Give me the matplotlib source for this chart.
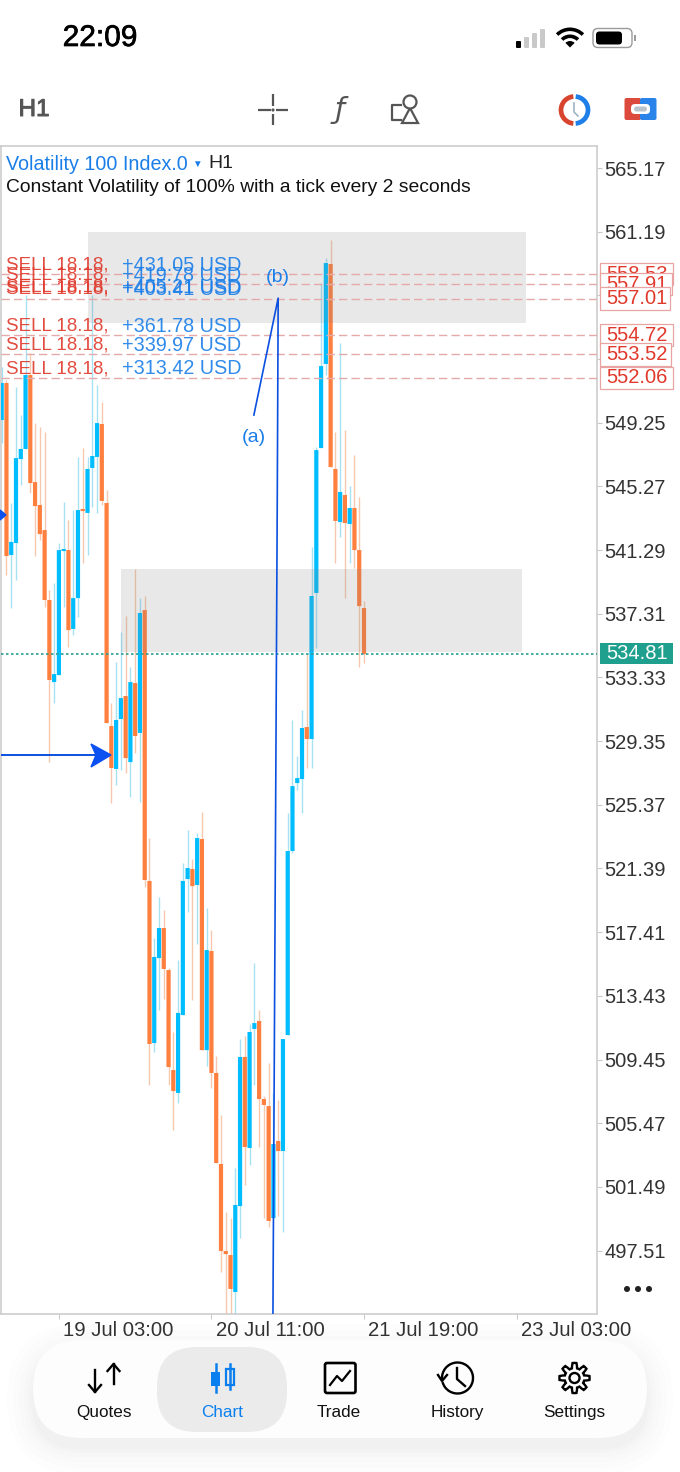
import numpy as np
import matplotlib
matplotlib.use('Agg')
import matplotlib.pyplot as plt
import matplotlib.patheffects as path_effects
from matplotlib.patches import Rectangle, FancyBboxPatch, Circle, Wedge, Arc, Polygon
from matplotlib.transforms import ScaledTranslation

plt.rcParams['font.family'] = ['Liberation Sans', 'DejaVu Sans']

# DATA
opens = [549.42, 551.73, 540.98, 541.73, 546.98, 547.61, 552.23, 545.54, 544.11, 542.54,
         538.17, 533.04, 533.48, 541.23, 541.29, 536.36, 538.29, 543.86, 543.61, 546.42,
         547.11, 549.17, 544.23, 530.29, 527.61, 530.73, 532.17, 528.04, 532.98, 529.86,
         537.54, 520.61, 510.48, 515.79, 517.67, 515.04, 508.79, 507.36, 512.23, 520.73,
         521.36, 520.36, 523.23, 510.04, 516.23, 508.61, 502.92, 497.48, 497.23, 494.92,
         500.29, 509.61, 503.92, 511.36, 511.86, 506.98, 506.54, 499.54, 504.36, 503.73,
         510.98, 522.48, 526.73, 526.98, 530.23, 529.48, 538.61, 547.67, 552.92, 559.17,
         546.36, 543.04, 544.73, 542.92, 543.92, 541.29, 537.67]
highs = [552.73, 551.92, 544.23, 551.48, 549.73, 557.23, 553.61, 549.23, 548.98, 548.67,
         538.79, 539.23, 541.73, 544.29, 543.17, 543.79, 547.11, 547.67, 547.11, 557.23,
         551.61, 550.54, 545.04, 531.73, 534.29, 536.17, 537.17, 533.98, 540.11, 538.29,
         538.42, 523.29, 517.04, 519.61, 518.79, 515.17, 511.17, 515.67, 521.73, 523.79,
         521.98, 523.61, 524.92, 518.92, 517.54, 509.67, 505.98, 499.92, 499.54, 502.67,
         510.73, 510.92, 511.67, 515.48, 512.54, 507.17, 509.23, 507.36, 506.92, 510.73,
         524.86, 530.67, 528.42, 531.29, 534.86, 541.48, 547.73, 557.98, 559.54, 560.67,
         548.67, 554.23, 548.79, 545.29, 547.23, 544.61, 538.11]
lows = [547.98, 539.73, 537.67, 539.42, 545.36, 547.61, 544.86, 540.92, 541.92, 537.73,
        528.04, 531.73, 533.48, 537.73, 535.23, 535.98, 537.11, 540.48, 540.98, 543.98,
        543.61, 544.11, 530.48, 525.48, 526.61, 527.54, 527.36, 525.86, 528.61, 525.54,
        520.23, 507.86, 509.92, 512.54, 513.23, 507.86, 505.04, 506.73, 512.23, 518.67,
        513.17, 516.67, 510.04, 509.04, 507.67, 502.98, 496.17, 493.5, 493.5, 493.5,
        498.29, 501.61, 502.86, 507.86, 503.98, 499.54, 498.98, 499.54, 499.67, 498.67,
        510.98, 522.36, 526.29, 524.86, 527.67, 527.67, 535.17, 547.67, 552.23, 546.48,
        540.48, 542.11, 538.29, 540.48, 540.17, 533.98, 534.23]
closes = [551.73, 540.92, 541.80, 547.04, 547.61, 552.23, 545.48, 544.04, 542.29, 538.17,
          533.17, 533.54, 541.29, 541.36, 536.29, 538.29, 543.79, 543.73, 546.36, 547.17,
          549.23, 544.36, 530.48, 527.67, 530.67, 532.04, 528.29, 533.04, 529.67, 537.36,
          520.67, 510.42, 515.86, 517.67, 515.11, 508.98, 507.48, 512.36, 520.61, 521.42,
          520.29, 523.29, 510.04, 516.29, 508.61, 502.98, 497.48, 497.29, 495.11, 500.36,
          509.61, 503.98, 511.17, 511.73, 506.98, 506.61, 499.36, 504.17, 503.73, 510.73,
          522.48, 526.54, 527.04, 530.17, 529.48, 538.42, 547.54, 552.79, 559.23, 546.48,
          543.11, 544.92, 542.98, 543.92, 541.29, 537.79, 534.79]

y_ticks = [565.17, 561.19, 557.21, 553.23, 549.25, 545.27, 541.29, 537.31, 533.33,
           529.35, 525.37, 521.39, 517.41, 513.43, 509.45, 505.47, 501.49, 497.51]
y_labels = ['565.17', '561.19', '', '', '549.25', '545.27', '541.29', '537.31', '533.33',
            '529.35', '525.37', '521.39', '517.41', '513.43', '509.45', '505.47', '501.49', '497.51']
x_ticks = [12, 44, 76, 108]
x_labels = ['19 Jul 03:00', '20 Jul 11:00', '21 Jul 19:00', '23 Jul 03:00']

order_prices = [558.53, 557.91, 557.01, 554.72, 553.52, 552.06]
sell_prices = [558.53, 557.91, 557.14, 557.01, 554.72, 553.52, 552.06]
sell_profits = ['+431.05', '+419.78', '+405.21', '+403.41', '+361.78', '+339.97', '+313.42']
last_price = 534.81

zones_x = [(18.0, 110.0), (25.0, 109.2)]
zones_y = [(555.48, 561.17), (534.92, 540.11)]

line_a_x = [52.9, 58.0, 57.8, 56.9]
line_a_y = [549.73, 557.04, 544.0, 493.6]
arrow_x = [-0.4, 22.7]
arrow_y = [528.48, 528.48]

BLUE = '#00bdff'
ORANGE = '#ff7f3f'
BLUE_W = '#a6e2f4'
ORANGE_W = '#f6c8ae'
RED = '#e0392b'
LINK = '#1a7ee8'
GRAY = '#c9c9c9'
DARK = '#555555'
medium = [path_effects.withStroke(linewidth=0.5, foreground='black')]

fig = plt.figure(figsize=(6.8, 14.72), dpi=100)
ax = fig.add_axes([1 / 680, (1472 - 1314) / 1472, 596 / 680, (1314 - 146) / 1472])
ax.set_xlim(-0.147, 124.88)
ax.set_ylim(493.545, 566.545)

# candles
xs = np.arange(len(opens))
for i in xs:
    up = closes[i] > opens[i]
    ax.vlines(i, lows[i], highs[i], color=BLUE_W if up else ORANGE_W, lw=1.0, zorder=2)
    top, bot = max(opens[i], closes[i]), min(opens[i], closes[i])
    ax.bar(i, top - bot, bottom=bot, width=0.88, color=BLUE if up else ORANGE, zorder=3, snap=False)

# zones, on top of the candles
for (x0, x1), (y0, y1) in zip(zones_x, zones_y):
    ax.add_patch(Rectangle((x0, y0), x1 - x0, y1 - y0, color='#808080', alpha=0.18, lw=0, zorder=4))

# order lines
for p in order_prices:
    ax.axhline(p, color='#e5a9a9', lw=1.0, dashes=(6, 3), zorder=5)
ax.axhline(last_price, color='#2a9d8f', lw=1.2, dashes=(1.5, 1.5), zorder=5)

# drawn objects
ax.plot(line_a_x, line_a_y, color='#0b50e0', lw=1.2, zorder=6)
ax.plot(arrow_x, arrow_y, color='#0b50e0', lw=1.4, zorder=6)
ax.text(52.9, 548.35, '(a)', color=LINK, fontsize=14, ha='center', va='center', zorder=7)
ax.text(58.0, 558.33, '(b)', color=LINK, fontsize=14, ha='center', va='center', zorder=7)

# axes cosmetics
for s in ['left', 'top', 'right', 'bottom']:
    ax.spines[s].set_color(GRAY)
    ax.spines[s].set_linewidth(1.1)
ax.yaxis.tick_right()
ax.set_yticks(y_ticks)
ax.set_yticklabels(y_labels, fontsize=14.5, color='#333333')
ax.set_xticks(x_ticks)
ax.set_xticklabels(x_labels, fontsize=14.6, color='#333333')
ax.tick_params(axis='y', length=3.5, color=GRAY, pad=2)
ax.tick_params(axis='x', length=3.5, color=GRAY, pad=1.5)
shift = ScaledTranslation(4.5 / 100, 0, fig.dpi_scale_trans)
for lab in ax.get_xticklabels():
    lab.set_ha('left')
    lab.set_transform(lab.get_transform() + shift)

# sell labels
tr = ax.get_yaxis_transform()
for p, prof in zip(sell_prices, sell_profits):
    ax.text(5 / 596, p + 0.57, 'SELL 18.18,', color=RED, fontsize=13.5, va='center', transform=tr, zorder=8, alpha=0.9)
    ax.text(120.5 / 596, p + 0.57, prof + ' USD', color=LINK, fontsize=14.2, va='center', transform=tr, zorder=8, alpha=0.9)

# price boxes at the right, each one covers the one before
for k, (p, w) in enumerate(zip(order_prices, [73, 72, 70, 73, 71, 73])):
    ax.add_patch(Rectangle((1.005, p - 0.7), w / 596, 1.4, transform=tr, clip_on=False, fc='white', ec='#e9a3a3', lw=0.9, zorder=9 + 2 * k))
    ax.text(1.015, p, f'{p:.2f}', color=RED, fontsize=14.5, va='center', transform=tr, zorder=10 + 2 * k, clip_on=False)
ax.add_patch(Rectangle((1.005, last_price - 0.66), 73 / 596, 1.32, transform=tr, clip_on=False, fc='#1fa08f', ec='none', zorder=9))
ax.text(1.015, last_price, f'{last_price:.2f}', color='white', fontsize=14.5, va='center', transform=tr, zorder=10, clip_on=False)

ax.text(5 / 596, 1 - 18 / 1168, 'Volatility 100 Index.0', color=LINK, fontsize=14.2, va='center', transform=ax.transAxes, zorder=8)
ax.text(196 / 596, 1 - 18 / 1168, '▼', color=LINK, fontsize=7, ha='center', va='center', transform=ax.transAxes, zorder=8)
ax.text(207.5 / 596, 1 - 18 / 1168, 'H1', color='#222222', fontsize=14, va='center', transform=ax.transAxes, zorder=8)
ax.text(5 / 596, 1 - 41.5 / 1168, 'Constant Volatility of 100% with a tick every 2 seconds', color='#111111', fontsize=13.9,
        va='center', transform=ax.transAxes, zorder=8)

# ---- app chrome, in pixel coordinates
ui = fig.add_axes([0, 0, 1, 1], zorder=5)
ui.set_xlim(0, 680)
ui.set_ylim(1472, 0)
ui.axis('off')
ui.patch.set_alpha(0)


def rbox(x0, y0, x1, y1, r, **kw):
    ui.add_patch(FancyBboxPatch((x0, y0), x1 - x0, y1 - y0, boxstyle=f'round,pad=0,rounding_size={r}', **kw))


# arrow heads
ui.add_patch(Polygon([(91, 744), (111, 755), (91, 767), (96, 755)], color='#0b50f0'))
ui.add_patch(Polygon([(0, 510), (6, 515), (0, 520)], color='#0b50f0'))
for x in [627, 638, 649]:
    ui.add_patch(Circle((x, 1289), 2.3, color='#222222'))

# status bar
ui.text(100, 38, '22:09', fontsize=21.5, ha='center', va='center', color='black', path_effects=medium)
for x, h, c in zip([516, 524, 532, 540], [7, 11, 15, 19], ['black', GRAY, GRAY, GRAY]):
    rbox(x, 48 - h, x + 5, 48, 1, fc=c, ec='none')
for r, w in [(20, 3.6), (13, 3.6)]:
    ui.add_patch(Wedge((570, 47.5), r, 225, 315, width=w, fc='black', ec='none'))
ui.add_patch(Wedge((570, 47.5), 6.5, 225, 315, fc='black', ec='none'))
rbox(593, 28.5, 632, 47.5, 5, fc='white', ec='#9a9a9a', lw=1.0)
rbox(596, 31.5, 622, 44.5, 3.5, fc='black', ec='none')
ui.add_patch(Rectangle((634, 35), 1.5, 6, fc='#9a9a9a', ec='none'))

# toolbar
ui.text(34, 110, 'H1', fontsize=17.5, ha='center', va='center', color=DARK,
        path_effects=[path_effects.withStroke(linewidth=0.7, foreground=DARK)])
for xx, yy in [((258, 271), (110, 110)), ((276, 288), (110, 110)), ((273, 273), (94, 106)), ((273, 273), (114, 125))]:
    ui.plot(xx, yy, color=DARK, lw=1.6, solid_capstyle='butt')
ui.add_patch(Circle((273, 110), 0.9, color=DARK))
ui.text(340, 110, 'ƒ', fontsize=21, ha='center', va='center', color=DARK, family='DejaVu Sans', style='italic')
ui.plot([401, 392, 392, 401], [105, 105, 120, 120], color=DARK, lw=1.6)
ui.add_patch(Polygon([(410, 108), (418, 123), (402, 123)], fc='none', ec=DARK, lw=1.6))
ui.add_patch(Circle((410, 102), 6.5, fc='white', ec=DARK, lw=1.6))
ui.add_patch(Arc((574.5, 110), 27, 27, theta1=95, theta2=265, color='#d9442f', lw=3.4))
ui.add_patch(Arc((574.5, 110), 27, 27, theta1=-85, theta2=85, color='#1e7fe8', lw=3.4))
ui.plot([574, 574, 578], [103, 112, 116], color='#9fb4c4', lw=1.2)
rbox(624.5, 98, 641, 120, 2, fc='#db4a3c', ec='none')
rbox(640, 98, 656.5, 120, 2, fc='#2a83e8', ec='none')
rbox(631, 104, 650, 114, 4, fc='white', ec='none')
rbox(634, 106.5, 647, 111.5, 2.5, fc='#b9c4cc', ec='none')

# tab bar with a soft shadow
for grow, a in zip([26, 20, 14, 9, 5, 2], [0.006, 0.007, 0.008, 0.009, 0.01, 0.012]):
    rbox(33 - grow, 1340 - grow + 10, 647 + grow, 1438 + grow + 10, 49 + grow, fc='black', ec='none', alpha=a)
rbox(33, 1340, 647, 1438, 49, fc='#fdfdfd', ec='none')
rbox(157, 1347, 287, 1432, 40, fc='#ebebeb', ec='none')

tab_x = [104, 222, 339, 457, 574]
tab_names = ['Quotes', 'Chart', 'Trade', 'History', 'Settings']
TAB = '#0a7ff0'
for x, n in zip(tab_x, tab_names):
    ui.text(x, 1417, n, fontsize=12.3, ha='center', va='baseline', color=TAB if n == 'Chart' else '#111111')

# quotes icon
ui.plot([95, 95], [1370, 1392], color='black', lw=1.7)
ui.plot([89, 95, 101], [1385, 1392, 1385], color='black', lw=1.7)
ui.plot([113.5, 113.5], [1364, 1384], color='black', lw=1.7)
ui.plot([107.5, 113.5, 119.5], [1371, 1364, 1371], color='black', lw=1.7)
# chart icon
ui.plot([215.5, 215.5], [1364, 1392], color=TAB, lw=1.8)
ui.add_patch(Rectangle((211, 1372), 9, 14, fc=TAB, ec='none'))
ui.plot([230, 230], [1364, 1389], color=TAB, lw=1.8)
ui.add_patch(Rectangle((226, 1369), 8, 16, fc='#ebebeb', ec=TAB, lw=1.6))
# trade icon
rbox(325, 1363, 355.5, 1393, 2, fc='none', ec='black', lw=1.9)
ui.plot([330, 337, 342, 350], [1385, 1376, 1381, 1371], color='black', lw=1.6)
# history icon
ui.add_patch(Arc((457.5, 1378), 31, 31, theta1=-185, theta2=165, color='black', lw=1.7))
ui.plot([438, 442, 447], [1375, 1381, 1375], color='black', lw=1.7)
ui.plot([457, 457, 465], [1368, 1379, 1386], color='black', lw=1.7)
# settings icon
ang = np.linspace(0, 2 * np.pi, 97)
rad = 12.5 + 2.6 * np.clip(3 * np.cos(8 * ang), -1, 1)
ui.add_patch(Polygon(np.c_[574.5 + rad * np.cos(ang), 1378 + rad * np.sin(ang)], fc='none', ec='black', lw=1.7))
ui.add_patch(Circle((574.5, 1378), 5, fc='none', ec='black', lw=1.7))

fig.savefig('out.png', dpi=100)
